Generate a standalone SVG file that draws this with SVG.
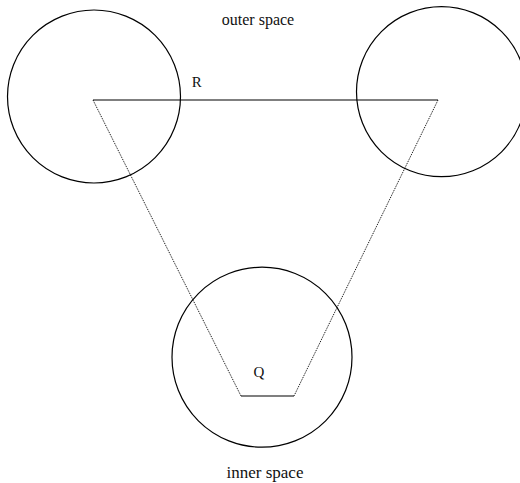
<svg xmlns="http://www.w3.org/2000/svg" width="520" height="483" viewBox="0 0 520 483">
<style>
.c{fill:none;stroke:#000;stroke-width:1.2}
.s{fill:none;stroke:#000;stroke-width:1.2}
.d{fill:none;stroke:#000;stroke-width:1;stroke-dasharray:1 1}
text{font-family:"Liberation Serif","Times New Roman",serif;fill:#111}
</style>
<rect width="520" height="483" fill="#fff"/>
<g id="connectors">
<line class="s" x1="93" y1="100" x2="438" y2="100"/>
<line class="d" x1="93" y1="100" x2="241" y2="396"/>
<line class="d" x1="438" y1="100" x2="294" y2="396"/>
<line class="s" x1="241" y1="396" x2="294" y2="396"/>
</g>
<g id="circleLeft"><circle class="c" cx="94" cy="96.5" r="86.5"/></g>
<g id="circleRight"><circle class="c" cx="441.5" cy="91.7" r="85"/></g>
<g id="circleBottom"><circle class="c" cx="262" cy="357.2" r="90"/></g>
<g id="labels">
<text x="258" y="25" font-size="16" text-anchor="middle">outer space</text>
<text x="196.7" y="86.7" font-size="15" text-anchor="middle">R</text>
<text x="259" y="377" font-size="15" text-anchor="middle">Q</text>
<text x="265" y="478" font-size="17" text-anchor="middle">inner space</text>
</g>
</svg>
